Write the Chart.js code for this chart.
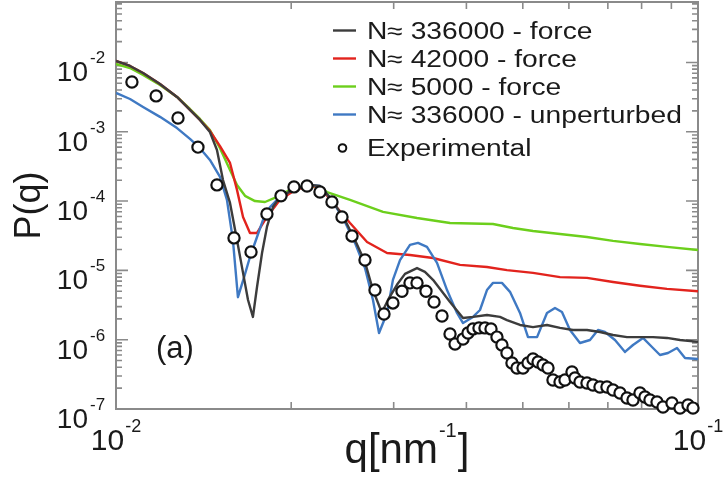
<!DOCTYPE html>
<html lang="en">
<head>
    <meta charset="UTF-8">
    <title>P(q) - force vs unperturbed vs experiment</title>
    <script src="https://cdn.jsdelivr.net/npm/chart.js"></script>
    <style>
        html, body { margin: 0; padding: 0; background: #fff; }
        .chart-box { position: relative; width: 726px; height: 477px; }
    </style>
</head>
<body>
    <div class="chart-box">
        <canvas id="pqChart" width="726" height="477"></canvas>
    </div>

    <script>
        // --- DATA ---
        // q in nm^-1, P(q) dimensionless
        const qForce336k = [0.0100, 0.01057, 0.01113, 0.0119, 0.01273, 0.0134, 0.01394, 0.0145, 0.01491, 0.01527, 0.0157, 0.01614, 0.01653, 0.01686, 0.01719, 0.01747, 0.01782, 0.01817, 0.01861, 0.01913, 0.0203, 0.02154, 0.02241, 0.0235, 0.02474, 0.02574, 0.02678, 0.02764, 0.02842, 0.0286, 0.02933, 0.03039, 0.03137, 0.0329, 0.03395, 0.03505, 0.03749, 0.03947, 0.04106, 0.04339, 0.04568, 0.04696, 0.04945, 0.05206, 0.05502, 0.05793, 0.06098, 0.06445, 0.06785, 0.07145, 0.07551, 0.07949, 0.08369, 0.08845, 0.09313, 0.1];
        const pForce336k = [1.05e-2, 8.9e-3, 7.05e-3, 4.9e-3, 3.18e-3, 2.07e-3, 1.48e-3, 9.9e-4, 5.46e-4, 2.01e-4, 9.4e-5, 2.75e-5, 9.2e-6, 3.74e-6, 2.13e-6, 5.76e-6, 1.78e-5, 4.23e-5, 8.2e-5, 1.15e-4, 1.5e-4, 1.71e-4, 1.65e-4, 1.04e-4, 5.34e-5, 2.75e-5, 1.32e-5, 5.2e-6, 2.87e-6, 2.43e-6, 3.74e-6, 6.2e-6, 8.9e-6, 1.08e-5, 9.5e-6, 7.3e-6, 3.5e-6, 2.06e-6, 2.13e-6, 2.27e-6, 2.13e-6, 1.92e-6, 1.63e-6, 1.52e-6, 1.63e-6, 1.48e-6, 1.38e-6, 1.38e-6, 1.29e-6, 1.17e-6, 1.09e-6, 1.09e-6, 1.09e-6, 1.06e-6, 9.9e-7, 9.3e-7];

        const qForce42k = [0.0100, 0.01057, 0.01113, 0.0119, 0.01273, 0.0134, 0.01394, 0.0145, 0.01509, 0.0157, 0.01614, 0.01653, 0.01699, 0.01747, 0.01817, 0.01913, 0.0203, 0.02154, 0.02241, 0.0236, 0.02524, 0.027, 0.02922, 0.032, 0.03505, 0.039, 0.04339, 0.04696, 0.05206, 0.05793, 0.06445, 0.07145, 0.07949, 0.08845, 0.1];
        const pForce42k = [1.05e-2, 8.9e-3, 7.05e-3, 4.9e-3, 3.18e-3, 2.07e-3, 1.48e-3, 1.03e-3, 6.2e-4, 3.55e-4, 1.45e-4, 5.9e-5, 3.47e-5, 3.47e-5, 5.9e-5, 1.04e-4, 1.45e-4, 1.65e-4, 1.6e-4, 9.4e-5, 4.83e-5, 2.57e-5, 1.78e-5, 1.67e-5, 1.51e-5, 1.2e-5, 1.12e-5, 1.01e-5, 9.2e-6, 8.0e-6, 7.8e-6, 6.8e-6, 6.0e-6, 5.4e-6, 5.0e-6];

        const qForce5k = [0.0100, 0.01057, 0.01113, 0.0119, 0.01273, 0.0134, 0.01394, 0.0145, 0.01509, 0.0157, 0.01614, 0.01666, 0.01733, 0.01803, 0.01891, 0.01991, 0.02112, 0.02241, 0.02304, 0.02524, 0.02876, 0.0329, 0.03749, 0.04444, 0.04809, 0.05206, 0.05793, 0.06445, 0.07145, 0.07949, 0.08845, 0.1];
        const pForce5k = [9.5e-3, 8.3e-3, 6.6e-3, 4.73e-3, 3.18e-3, 2.13e-3, 1.53e-3, 1.06e-3, 5.8e-4, 2.81e-4, 1.71e-4, 1.19e-4, 1.0e-4, 9.7e-5, 1.15e-4, 1.45e-4, 1.65e-4, 1.6e-4, 1.35e-4, 1.04e-4, 6.97e-5, 5.7e-5, 4.83e-5, 4.67e-5, 4.09e-5, 3.7e-5, 3.35e-5, 3.03e-5, 2.66e-5, 2.4e-5, 2.18e-5, 1.97e-5];

        const qUnpert336k = [0.0100, 0.01057, 0.01113, 0.0119, 0.01273, 0.0134, 0.01394, 0.0145, 0.01509, 0.01551, 0.01588, 0.0162, 0.0166, 0.01699, 0.01747, 0.01789, 0.01839, 0.01891, 0.0203, 0.02154, 0.02241, 0.0235, 0.02474, 0.02574, 0.02678, 0.02764, 0.02831, 0.02922, 0.02991, 0.03076, 0.032, 0.03303, 0.03422, 0.03561, 0.03705, 0.03854, 0.03947, 0.04106, 0.04221, 0.04339, 0.04444, 0.04604, 0.04753, 0.04945, 0.05104, 0.0529, 0.05502, 0.05679, 0.05838, 0.06026, 0.06269, 0.06522, 0.06732, 0.06921, 0.07201, 0.07492, 0.07732, 0.08044, 0.08336, 0.08603, 0.08881, 0.09203, 0.09499, 0.1];
        const pUnpert336k = [3.63e-3, 2.97e-3, 2.28e-3, 1.64e-3, 1.13e-3, 7.9e-4, 5.8e-4, 3.92e-4, 2.23e-4, 1.04e-4, 2.75e-5, 4.1e-6, 8.0e-6, 1.56e-5, 3.03e-5, 5.34e-5, 8.2e-5, 1.04e-4, 1.55e-4, 1.71e-4, 1.65e-4, 1.04e-4, 4.99e-5, 2.49e-5, 1.08e-5, 3.74e-6, 1.25e-6, 2.43e-6, 7.3e-6, 1.41e-5, 2.33e-5, 2.49e-5, 2.18e-5, 1.28e-5, 5.2e-6, 2.43e-6, 1.74e-6, 2.13e-6, 2.68e-6, 5.2e-6, 6.6e-6, 6.6e-6, 4.9e-6, 2.43e-6, 1.09e-6, 1.09e-6, 2.43e-6, 2.87e-6, 2.51e-6, 1.38e-6, 8.96e-7, 9.9e-7, 1.38e-6, 1.29e-6, 9.9e-7, 6.65e-7, 8.39e-7, 1.06e-6, 7.85e-7, 6.01e-7, 6.43e-7, 7.59e-7, 5.44e-7, 5.27e-7];

        const qExp = [0.01065, 0.01172, 0.01278, 0.01383, 0.01491, 0.01595, 0.01706, 0.01817, 0.01921, 0.02022, 0.02129, 0.02241, 0.0235, 0.02445, 0.02544, 0.02678, 0.02786, 0.02887, 0.02991, 0.031, 0.032, 0.0329, 0.03409, 0.03519, 0.03632, 0.03749, 0.03824, 0.03947, 0.04025, 0.04106, 0.04204, 0.04305, 0.04409, 0.04514, 0.04604, 0.04696, 0.0479, 0.04886, 0.05004, 0.05104, 0.05206, 0.05311, 0.05417, 0.05524, 0.05634, 0.05793, 0.05908, 0.06074, 0.06146, 0.06269, 0.06445, 0.066, 0.06785, 0.06975, 0.07145, 0.07345, 0.07551, 0.07732, 0.07949, 0.08107, 0.08269, 0.08503, 0.08707, 0.09022, 0.09313, 0.09612, 0.09804];
        const pExp = [5.23e-3, 3.29e-3, 1.58e-3, 6.0e-4, 1.71e-4, 2.94e-5, 1.84e-5, 6.5e-5, 1.19e-4, 1.6e-4, 1.65e-4, 1.35e-4, 9.7e-5, 5.9e-5, 3.14e-5, 1.41e-5, 5.2e-6, 2.35e-6, 3.39e-6, 5.0e-6, 6.6e-6, 6.6e-6, 5.0e-6, 3.5e-6, 2.2e-6, 1.21e-6, 8.67e-7, 1.02e-6, 1.25e-6, 1.43e-6, 1.48e-6, 1.48e-6, 1.43e-6, 1.09e-6, 8.39e-7, 6.43e-7, 4.61e-7, 3.91e-7, 3.91e-7, 4.61e-7, 5.27e-7, 4.77e-7, 4.31e-7, 3.91e-7, 2.62e-7, 2.45e-7, 2.62e-7, 3.42e-7, 2.8e-7, 2.45e-7, 2.37e-7, 2.22e-7, 2.08e-7, 2.08e-7, 1.88e-7, 1.7e-7, 1.44e-7, 1.35e-7, 1.7e-7, 1.49e-7, 1.35e-7, 1.26e-7, 1.07e-7, 1.22e-7, 1.03e-7, 1.14e-7, 1.03e-7];

        // axis ranges and labelled decades
        const xRange = [0.01, 0.1];
        const yRange = [1e-7, 0.0745];
        const xTickDecades = [-2, -1];
        const yTickDecades = [-7, -6, -5, -4, -3, -2];

        // minor ticks at 1..9 x 10^n inside each axis range
        function logTicks(min, max) {
            const out = [];
            for (let e = Math.floor(Math.log10(min)); e <= Math.ceil(Math.log10(max)); e++) {
                for (let k = 1; k <= 9; k++) {
                    const v = k * Math.pow(10, e);
                    if (v >= min * 0.999 && v <= max * 1.001) out.push({ v, major: k === 1 });
                }
            }
            return out;
        }
        const xTicks = logTicks(xRange[0], xRange[1]);
        const yTicks = logTicks(yRange[0], yRange[1]);

        const toPoints = (qs, ps) => qs.map((q, i) => ({ x: q, y: ps[i] }));

        const FONT = '"Liberation Sans", Arial, Helvetica, sans-serif';
        const INK = '#1a1a1a';
        const FRAME = '#8a8a8a';

        const lineSet = (label, qs, ps, color, order) => ({
            label, data: toPoints(qs, ps), borderColor: color, backgroundColor: color,
            borderWidth: 2.4, pointRadius: 0, tension: 0, fill: false, order,
            borderJoinStyle: 'round', legendType: 'line'
        });

        const datasets = [
            lineSet('N\u2248 336000 - force', qForce336k, pForce336k, '#3c3c3c', 2),
            lineSet('N\u2248 42000 - force', qForce42k, pForce42k, '#e2231d', 4),
            lineSet('N\u2248 5000 - force', qForce5k, pForce5k, '#6ccf1c', 5),
            lineSet('N\u2248 336000 - unperturbed', qUnpert336k, pUnpert336k, '#3f79c3', 3),
            {
                label: 'Experimental', data: toPoints(qExp, pExp), showLine: false,
                pointRadius: 5.6, pointBorderWidth: 2.2, pointBorderColor: '#111',
                pointBackgroundColor: '#fff', borderColor: '#111', order: 0, clip: false,
                legendType: 'circle'
            }
        ];

        // --- FRAME, INWARD TICKS ---
        const frameTicks = {
            id: 'frameTicks',
            beforeDatasetsDraw(chart) {
                const { ctx, chartArea: a, scales: { x, y } } = chart;
                ctx.save();
                ctx.strokeStyle = FRAME;
                ctx.lineWidth = 1.6;
                ctx.beginPath();
                yTicks.forEach(t => {
                    const py = y.getPixelForValue(t.v);
                    const len = t.major ? 12 : 6;
                    ctx.moveTo(a.left, py); ctx.lineTo(a.left + len, py);
                    ctx.moveTo(a.right, py); ctx.lineTo(a.right - len, py);
                });
                xTicks.forEach(t => {
                    const px = x.getPixelForValue(t.v);
                    const len = t.major ? 12 : 7;
                    ctx.moveTo(px, a.bottom); ctx.lineTo(px, a.bottom - len);
                    ctx.moveTo(px, a.top); ctx.lineTo(px, a.top + len);
                });
                ctx.stroke();
                ctx.lineWidth = 2;
                ctx.strokeRect(a.left, a.top, a.right - a.left, a.bottom - a.top);
                ctx.restore();
            }
        };

        function stretched(ctx, str, px, py, sx) {
            ctx.save();
            ctx.translate(px, py);
            ctx.scale(sx, 1);
            ctx.fillText(str, 0, 0);
            ctx.restore();
        }

        // --- TEXT: tick labels, axis titles, legend, panel tag ---
        const textLayer = {
            id: 'textLayer',
            afterDraw(chart) {
                const { ctx, chartArea: a, scales: { x, y } } = chart;
                ctx.save();
                ctx.fillStyle = INK;
                ctx.textBaseline = 'alphabetic';

                // y tick labels 10^n
                yTickDecades.forEach(e => {
                    const py = y.getPixelForValue(Math.pow(10, e));
                    ctx.font = '28px ' + FONT;
                    ctx.textAlign = 'right';
                    ctx.fillText('10', 88, py + 19);
                    ctx.font = '17px ' + FONT;
                    ctx.textAlign = 'left';
                    ctx.fillText(String(e), 90, py + 1);
                });

                // x tick labels 10^n
                xTickDecades.forEach(e => {
                    const px = x.getPixelForValue(Math.pow(10, e));
                    ctx.textAlign = 'left';
                    ctx.font = '30px ' + FONT;
                    const w1 = ctx.measureText('10').width;
                    ctx.font = '18px ' + FONT;
                    const w2 = ctx.measureText(String(e)).width;
                    const start = px - (w1 + w2 + 1) / 2;
                    ctx.font = '30px ' + FONT;
                    ctx.fillText('10', start, 450);
                    ctx.font = '18px ' + FONT;
                    ctx.fillText(String(e), start + w1 + 1, 432);
                });

                // x title q[nm^-1]
                ctx.textAlign = 'left';
                ctx.font = '42px ' + FONT;
                const tA = 'q[nm', tB = '-1', tC = ']';
                const wA = ctx.measureText(tA).width;
                const wC = ctx.measureText(tC).width;
                ctx.font = '20px ' + FONT;
                const wB = ctx.measureText(tB).width;
                const cx = (a.left + a.right) / 2;
                const x0 = cx - (wA + wB + wC + 2) / 2;
                ctx.font = '42px ' + FONT;
                ctx.fillText(tA, x0, 463);
                ctx.font = '20px ' + FONT;
                ctx.fillText(tB, x0 + wA + 1, 437);
                ctx.font = '42px ' + FONT;
                ctx.fillText(tC, x0 + wA + wB + 2, 463);

                // y title P(q)
                ctx.save();
                ctx.translate(40, (a.top + a.bottom) / 2);
                ctx.rotate(-Math.PI / 2);
                ctx.textAlign = 'center';
                ctx.font = '36px ' + FONT;
                ctx.fillText('P(q)', 0, 0);
                ctx.restore();

                // panel tag
                ctx.textAlign = 'left';
                ctx.font = '31px ' + FONT;
                ctx.fillText('(a)', 156, 358);

                // legend
                const rowBase = [39, 67, 95, 123, 156];
                const legendOrder = [0, 1, 2, 3, 4];
                ctx.font = '23.5px ' + FONT;
                legendOrder.forEach((di, r) => {
                    const ds = chart.data.datasets[di];
                    const by = rowBase[r];
                    if (ds.legendType === 'line') {
                        ctx.strokeStyle = ds.borderColor;
                        ctx.lineWidth = 2.4;
                        ctx.beginPath();
                        ctx.moveTo(333, by - 8.5);
                        ctx.lineTo(356, by - 8.5);
                        ctx.stroke();
                    } else {
                        ctx.strokeStyle = '#111';
                        ctx.fillStyle = '#fff';
                        ctx.lineWidth = 2;
                        ctx.beginPath();
                        ctx.arc(342.5, by - 8, 3.8, 0, Math.PI * 2);
                        ctx.fill();
                        ctx.stroke();
                    }
                    ctx.fillStyle = INK;
                    stretched(ctx, ds.label, 367, by, 1.2);
                });
                ctx.restore();
            }
        };

        // --- CHART.JS ---
        const pqCtx = document.getElementById('pqChart').getContext('2d');
        new Chart(pqCtx, {
            type: 'line',
            data: { datasets },
            options: {
                responsive: false,
                animation: false,
                devicePixelRatio: 1,
                layout: { autoPadding: false, padding: { top: 2, right: 28, bottom: 0, left: 0 } },
                scales: {
                    x: {
                        type: 'logarithmic', min: xRange[0], max: xRange[1],
                        grid: { display: false }, border: { display: false },
                        ticks: { display: false },
                        afterFit: s => { s.height = 68; }
                    },
                    y: {
                        type: 'logarithmic', min: yRange[0], max: yRange[1],
                        grid: { display: false }, border: { display: false },
                        ticks: { display: false },
                        afterFit: s => { s.width = 116; }
                    }
                },
                plugins: { legend: { display: false }, tooltip: { enabled: false } }
            },
            plugins: [frameTicks, textLayer]
        });
    </script>
</body>
</html>
